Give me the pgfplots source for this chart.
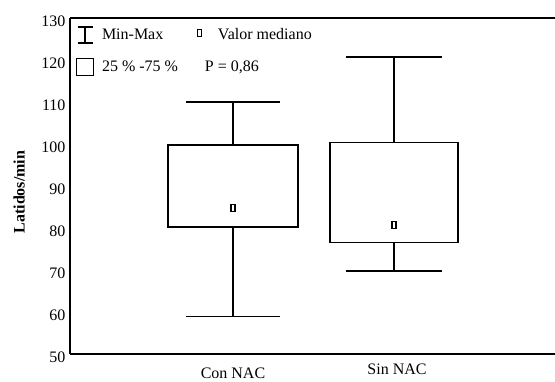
\documentclass[border=0pt]{standalone}
\usepackage{fontspec}
\setmainfont{Liberation Serif}
\usepackage{pgfplots}
\pgfplotsset{compat=1.18}
\usepgfplotslibrary{statistics}
\begin{document}
\begin{tikzpicture}
\begin{axis}[
  scale only axis, width=485pt, height=336pt,
  xmin=0, xmax=485, ymin=50, ymax=130,
  axis x line=box, axis y line=left,
  axis line style={line width=1.6pt, -},
  ytick={50,60,...,130},
  xtick={163,327}, xticklabels={Con NAC, {\raisebox{4pt}[\height][\depth]{Sin NAC}}},
  major tick length=0pt,
  /pgf/number format/assume math mode=true,
  tick label style={font=\fontsize{16}{19}\selectfont},
  yticklabel style={yshift=-3pt, xshift=-1pt},
  xticklabel style={inner sep=1pt, yshift=-13pt},
  ylabel={Latidos/min},
  ylabel style={font=\bfseries\fontsize{16}{19}\selectfont, at={(axis description cs:-0.105,0.482)}, anchor=center},
  boxplot/draw direction=y,
  legend columns=2,
  legend cell align=left,
  legend style={draw=none, fill=none, inner sep=0pt, outer sep=0pt,
    at={(axis description cs:0.0124,0.976)}, anchor=north west,
    font=\fontsize{16}{19}\selectfont,
    nodes={inner sep=0pt},
    row sep=14pt,
    /tikz/column 1/.style={column sep=8pt},
    /tikz/column 2/.style={column sep=19pt},
    /tikz/column 3/.style={column sep=16pt}},
]
\addlegendimage{legend image code/.code={
  \path[draw=none, fill=none] (0,-9pt) rectangle (18pt,9pt);
  \draw[line width=1.4pt] (1.5pt,8pt) -- (16.5pt,8pt);
  \draw[line width=1.4pt] (9pt,8pt) -- (9pt,-8pt);
  \draw[line width=1.4pt] (1.5pt,-8pt) -- (16.5pt,-8pt);}}
\addlegendentry{Min-Max}
\addlegendimage{legend image code/.code={
  \path[draw=none, fill=none] (0,-4pt) rectangle (5pt,4pt);
  \draw[line width=1.2pt, fill=white] (0.6pt,-1.5pt) rectangle (4.4pt,5.5pt);}}
\addlegendentry{Valor mediano}
\addlegendimage{legend image code/.code={
  \draw[line width=1.4pt, fill=none] (0.7pt,-8.3pt) rectangle (17.3pt,8.3pt);}}
\addlegendentry{25 \% -75 \%}
\addlegendimage{legend image code/.code={}}
\addlegendentry{\hspace*{-13pt}P = 0,86}

\addplot[forget plot, black, line width=1.4pt,
  boxplot/draw/median/.code={},
  boxplot prepared={draw position=163, lower whisker=59, lower quartile=80.2,
    median=84.8, upper quartile=99.8, upper whisker=110,
    box extend=130, whisker extend=94}] coordinates {};
\addplot[forget plot, black, line width=1.4pt,
  boxplot/draw/median/.code={},
  boxplot prepared={draw position=324, lower whisker=69.8, lower quartile=76.5,
    median=80.7, upper quartile=100.4, upper whisker=120.7,
    box extend=128, whisker extend=96}] coordinates {};
\addplot[forget plot, only marks, mark=square*, mark size=3.5pt,
  mark options={fill=white, draw=black, line width=1.2pt, xscale=0.55}]
  coordinates {(163,84.8) (324,80.7)};

\coordinate (ll) at (rel axis cs:0,0);
\coordinate (ur) at (rel axis cs:1,1);
\end{axis}
\pgfresetboundingbox
\path ([shift={(-70pt,-27pt)}]ll) rectangle ([shift={(0pt,18pt)}]ur);
\end{tikzpicture}
\end{document}
